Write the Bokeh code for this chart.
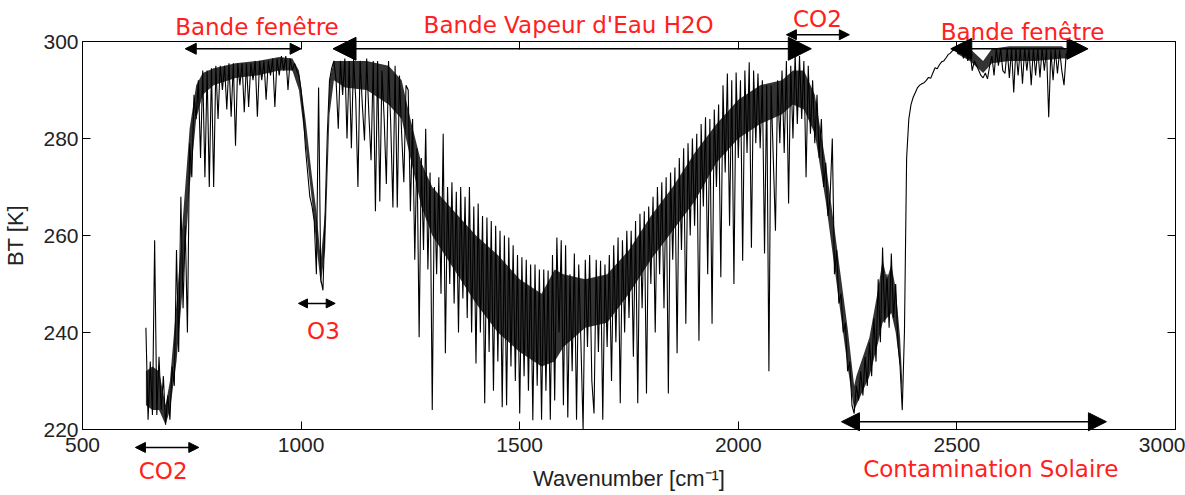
from bokeh.plotting import figure
from bokeh.models import (Arrow, NormalHead, Label, FixedTicker, LinearAxis,
                          Range1d, Column)
from bokeh.embed import file_html
from bokeh.resources import INLINE

# ---- spectrum (brightness temperature, K) sampled every 5 cm-1 from 645 cm-1 ----
wn_start = 645
wn_step = 5
bt = [
    241, 222, 234, 223, 259, 223, 235, 224, 231, 221,            # 645
    227, 222, 233, 229, 257, 236, 268, 245, 262, 240,            # 695
    279, 272, 289, 284, 292, 276, 294, 272, 294, 270,            # 745
    294.5, 270, 295, 284, 295, 290, 295, 286, 295.5, 284.5,      # 795
    295.5, 278.5, 295.5, 291, 295.5, 285.4, 295.5, 286.5, 295.5, 292,  # 845
    296, 284.5, 296, 292, 296, 288, 296, 293, 296.5, 286.5,      # 895
    296.5, 293, 297, 294, 297, 290, 296.5, 294, 295.5, 294,      # 945
    293, 290, 285, 278, 273, 268, 266, 263, 252, 290.5,          # 995
    251, 248.7, 264.5, 281, 292, 294.5, 296, 292, 282, 296,      # 1045
    289, 296.5, 280, 296, 278, 296.5, 288, 270, 296, 287,        # 1095
    279.6, 296.5, 285, 275.5, 296, 265, 296, 267, 294, 284,      # 1145
    270.6, 296, 283, 265.8, 295, 265.8, 293, 281, 271, 291,      # 1195
    290, 265, 284, 255, 278, 239, 276, 257, 282, 253,            # 1245
    273, 224, 270, 252, 272, 248, 281, 235.7, 270, 250,          # 1295
    271, 246, 269, 240, 270, 247, 268, 243, 270, 240,            # 1345
    266, 233.6, 266.6, 240, 264, 225.4, 263.7, 236, 263, 228,    # 1395
    262, 234, 261, 224.6, 260, 225, 259.6, 233, 258, 230,        # 1445
    256, 223.3, 255.5, 231, 255, 228, 254, 221.9, 254, 229,      # 1495
    253, 222, 253, 228, 252.8, 222, 256, 226, 259.6, 240,        # 1545
    259, 225, 258, 222.5, 252, 232, 256.3, 222, 254, 238,        # 1595
    220, 255, 237, 256, 230, 223.3, 255, 236, 254.8, 222,        # 1645
    254, 237, 256, 230, 258, 238, 259.6, 225.4, 259, 240,        # 1695
    261, 243, 261, 235, 263, 225.4, 264.5, 245, 265, 227.4,      # 1745
    266, 250, 268, 240, 270, 252, 271, 245, 272, 227.4,          # 1795
    273, 255, 274, 235.7, 276, 257, 278, 241.8, 279, 260,        # 1845
    280, 262, 281, 238.3, 283, 266, 284.4, 252, 284, 241.8,      # 1895
    286, 270, 287, 251.4, 291, 273, 293.4, 262, 292, 250,        # 1945
    293.6, 276, 292, 254.8, 294, 277, 295.7, 257.5, 294, 279,    # 1995
    293.4, 278, 292, 256.3, 291, 232, 291, 276, 261, 292,        # 2045
    279, 294, 277, 296, 266.6, 295, 280, 297.5, 283, 297,        # 2095
    284, 296, 272, 295, 281, 292, 279, 289, 276, 284,            # 2145
    270, 275, 264, 268, 280, 252, 257, 246, 248, 240,            # 2195
    242, 232, 234, 225, 223.3, 229, 226, 232, 227, 235,          # 2245
    229, 238, 231, 243, 234, 251, 238, 257.5, 242, 252,          # 2295
    241, 256.3, 243, 250, 238, 233, 224, 240, 276, 284,          # 2345
    287, 288.5, 289.5, 290.5, 291, 291.3, 291.5, 292, 292.6, 292.4,  # 2395
    293.5, 294.6, 294.4, 295.2, 295.8, 296, 296.6, 297.3, 297.6, 298.1,  # 2445
    298.4, 298.8, 297.5, 298.6, 296.5, 298.5, 296, 298, 294, 296,  # 2495
    295, 294, 293, 292.5, 293.5, 292.3, 295, 297, 293, 298.5,    # 2545
    295, 298.5, 294, 293.4, 298.5, 292.5, 298.5, 289.5, 298.6, 293,  # 2595
    298.6, 291.3, 298.6, 294, 298.4, 291, 298.6, 293, 298.5, 292.6,  # 2645
    298.6, 294, 298.4, 284.4, 298.2, 292, 298.4, 293.4, 298.2, 294,  # 2695
    291, 297.5, 297,                                             # 2745
]
wavenumber = [wn_start + wn_step * i for i in range(len(bt))]

# ---- dense line "core" (where the unresolved lines blacken the trace) ----
core1_wn = [645, 660, 675, 690, 700, 715, 730, 745, 760, 775, 800, 850, 900, 950,
            980, 995, 1010, 1025, 1035, 1045, 1055, 1065, 1075, 1100, 1150, 1200,
            1230, 1250, 1275, 1300, 1350, 1400, 1450, 1500, 1550, 1580, 1600, 1650,
            1700, 1750, 1800, 1850, 1900, 1950, 2000, 2050, 2100, 2125, 2150, 2175,
            2200, 2225, 2250, 2265, 2270, 2300, 2320, 2330, 2340, 2350, 2360, 2370,
            2375]
core1_lo = [225, 224, 224, 221, 224, 234, 250, 270, 284, 289, 291, 292.5, 293, 294,
            294, 290, 279, 267, 258, 250, 257, 285, 292, 290.5, 290, 287,
            284, 276, 266, 260, 253, 246, 240, 236, 233, 234, 237, 241,
            242, 248, 255, 261, 267, 275, 280, 283, 285, 287, 286, 281,
            267, 250, 233, 224, 225, 231, 238, 242, 243, 244, 240, 233,
            226]
core1_hi = [232, 233, 232, 225, 230, 246, 264, 282, 291, 293.5, 294.5, 295.5, 296, 296.8,
            296.5, 294, 284, 272, 265, 255, 265, 292, 296, 296, 296, 295,
            292, 284, 275, 270, 265, 260, 256, 251, 248, 253, 252, 251,
            252, 257, 264, 270, 277, 283, 288, 291, 292, 294, 294, 289,
            275, 258, 241, 229, 231, 239, 249, 255, 251, 254, 249, 239,
            230]
core2_wn = [2500, 2530, 2560, 2580, 2620, 2680, 2740, 2755]
core2_lo = [297.5, 296, 293.5, 295.5, 296, 296, 296.5, 296.5]
core2_hi = [299, 298.5, 296, 298.5, 299, 299, 299, 298]

x_ticks = [500, 1000, 1500, 2000, 2500, 3000]
y_ticks = [220, 240, 260, 280, 300]

# ---- band annotations ----
band_labels = ["Bande fenêtre", "Bande Vapeur d'Eau H2O", "CO2", "Bande fenêtre",
               "O3", "CO2", "Contamination Solaire"]
band_start = [735, 1073, 2110, 2486, 994, 621, 2236]
band_end = [1000, 2167, 2254, 2800, 1078, 766, 2842]
band_y = [298.5, 298.5, 301.4, 298.5, 246, 216.3, 221.6]
label_x = [899, 1612, 2181, 2650, 1051, 684.5, 2577.5]
label_y = [303.0, 303.3, 304.6, 302.0, 240.4, 211.5, 211.9]
head_size = [11, 23, 10, 21, 9, 10, 18]

# ---- geometry of the plotting frame inside the 1185 x 495 page ----
W, H = 1185, 495
frame_left, frame_right, frame_top, frame_bottom = 80, 1175, 41, 429
xr = (500, 3000)
yr = (220, 300)

p = figure(width=W, height=H,
           x_range=Range1d(*xr), y_range=Range1d(*yr),
           output_backend="svg", toolbar_location=None,
           min_border_left=frame_left, min_border_right=W - frame_right,
           min_border_top=frame_top, min_border_bottom=H - frame_bottom)

p.varea(x=core1_wn, y1=core1_lo, y2=core1_hi, fill_color="black", fill_alpha=0.8)
p.varea(x=core2_wn, y1=core2_lo, y2=core2_hi, fill_color="black", fill_alpha=0.8)
p.line(wavenumber, bt, line_color="black", line_width=1.1)

p.grid.visible = False
p.outline_line_color = "black"
p.outline_line_width = 1
p.background_fill_color = "white"
p.border_fill_color = "white"

for ax, ticks in ((p.xaxis[0], x_ticks), (p.yaxis[0], y_ticks)):
    ax.ticker = FixedTicker(ticks=ticks)
    ax.major_tick_in = 8
    ax.major_tick_out = 0
    ax.minor_tick_in = 0
    ax.minor_tick_out = 0
    ax.axis_line_color = "black"
    ax.major_tick_line_color = "black"
    ax.major_label_text_font = "Liberation Sans"
    ax.major_label_text_font_size = "21px"
    ax.major_label_text_color = "#222222"
    ax.axis_label_text_font = "Liberation Sans"
    ax.axis_label_text_font_size = "22px"
    ax.axis_label_text_font_style = "normal"
    ax.axis_label_text_color = "#222222"

p.xaxis.axis_label = "Wavenumber [cm⁻¹]"
p.xaxis.major_label_standoff = 8
p.xaxis.axis_label_standoff = 11
p.yaxis.axis_label = "BT [K]"
p.yaxis.major_label_standoff = 4
p.yaxis.axis_label_standoff = 12

top = LinearAxis(ticker=FixedTicker(ticks=x_ticks), major_tick_in=8, major_tick_out=0,
                 minor_tick_in=0, minor_tick_out=0, axis_line_color=None,
                 major_label_text_font_size="0px",
                 major_label_overrides={t: "" for t in x_ticks})
right = LinearAxis(ticker=FixedTicker(ticks=y_ticks), major_tick_in=8, major_tick_out=0,
                   minor_tick_in=0, minor_tick_out=0, axis_line_color=None,
                   major_label_text_font_size="0px",
                   major_label_overrides={t: "" for t in y_ticks})
p.add_layout(top, "above")
p.add_layout(right, "right")

# ---- transparent overlay with the same horizontal frame and a full-height frame,
#      so that band arrows and labels may sit above / below the plotting box ----
uy = (yr[1] - yr[0]) / (frame_bottom - frame_top)
ov = figure(width=W, height=H,
            x_range=Range1d(*xr),
            y_range=Range1d(yr[0] - (H - frame_bottom) * uy, yr[1] + frame_top * uy),
            output_backend="svg", toolbar_location=None,
            x_axis_location=None, y_axis_location=None,
            min_border_left=frame_left, min_border_right=W - frame_right,
            min_border_top=0, min_border_bottom=0,
            margin=(-H, 0, 0, 0))
ov.grid.visible = False
ov.outline_line_color = None
ov.background_fill_color = None
ov.border_fill_color = None

for xs, xe, yy, hs in zip(band_start, band_end, band_y, head_size):
    ov.add_layout(Arrow(start=NormalHead(size=hs, fill_color="black", line_color="black"),
                        end=NormalHead(size=hs, fill_color="black", line_color="black"),
                        x_start=xs, y_start=yy, x_end=xe, y_end=yy,
                        line_color="black", line_width=1.5))

for lx, ly, txt in zip(label_x, label_y, band_labels):
    ov.add_layout(Label(x=lx, y=ly, text=txt, text_color="#ff2020",
                        text_font="DejaVu Sans", text_font_size="23px",
                        text_align="center", text_baseline="middle"))

layout = Column(children=[p, ov])

open("out.html", "w").write(file_html(layout, INLINE))
